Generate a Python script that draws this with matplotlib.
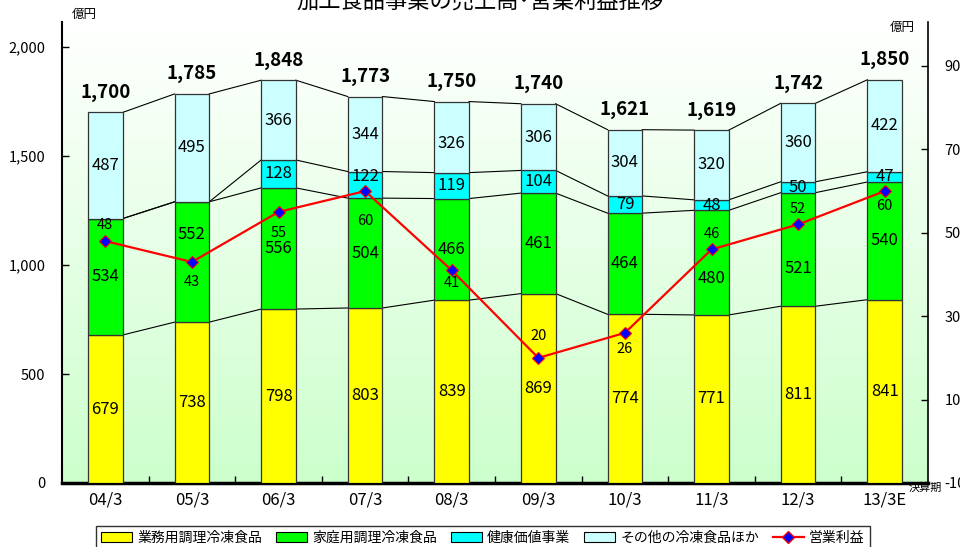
import matplotlib
matplotlib.use("Agg")
import matplotlib.pyplot as plt
import numpy as np
from matplotlib.patches import Patch
from matplotlib.lines import Line2D
from matplotlib.colors import LinearSegmentedColormap

plt.rcParams['font.family'] = ['Noto Sans CJK JP', 'DejaVu Sans']

categories = ["04/3", "05/3", "06/3", "07/3", "08/3", "09/3", "10/3", "11/3", "12/3", "13/3E"]
gyomu = [679, 738, 798, 803, 839, 869, 774, 771, 811, 841]
katei = [534, 552, 556, 504, 466, 461, 464, 480, 521, 540]
kenko = [0, 0, 128, 122, 119, 104, 79, 48, 50, 47]
sonota = [487, 495, 366, 344, 326, 306, 304, 320, 360, 422]
profit = [48, 43, 55, 60, 41, 20, 26, 46, 52, 60]

series_names = ["業務用調理冷凍食品", "家庭用調理冷凍食品", "健康価値事業", "その他の冷凍食品ほか"]
colors = ["#ffff00", "#00ff00", "#00ffff", "#ccffff"]
series = [gyomu, katei, kenko, sonota]

# label placement offsets (pixels, positive = down)
seg_offsets = [
    [0] * 10,
    [0, -27, 0, 0, 0, 0, 0, 16, 19, 0],
    [0, 0, 0, -8, 0, 0, 0, 0, 0, 0],
    [0, 0, 0, 0, 6, 0, 0, 0, 0, 0],
]
profit_offsets = [-16, 20, 21, 30, 13, -22, 16, -15, -15, 15]

fig = plt.figure(figsize=(9.6, 5.47), dpi=100)
ax = fig.add_axes([62/960, 1-483/547, (928-62)/960, (483-22)/547])
ax2 = ax.twinx()

# gradient background
grad = np.linspace(0, 1, 256).reshape(-1, 1)
cmap = LinearSegmentedColormap.from_list("bg", ["#ccffcc", "#ffffff"])
ax.imshow(grad, aspect='auto', cmap=cmap, origin='lower',
          extent=[0, 1, 0, 1], transform=ax.transAxes, zorder=0)

x = np.arange(len(categories))
w = 0.40
bottom = np.zeros(len(categories))
levels = []
for k, (vals, col) in enumerate(zip(series, colors)):
    vals = np.array(vals, dtype=float)
    ax.bar(x, vals, w, bottom=bottom, color=col, edgecolor="#333333", linewidth=0.9, zorder=3)
    for i, v in enumerate(vals):
        if v > 0:
            ax.annotate(f"{int(v)}", (x[i], bottom[i] + v/2), xytext=(0, -seg_offsets[k][i]),
                        textcoords='offset pixels', ha='center', va='center',
                        fontsize=12, zorder=6)
    bottom = bottom + vals
    levels.append(bottom.copy())

# connector lines between bars
for lev in levels:
    for i in range(len(x) - 1):
        ax.plot([x[i] + w/2, x[i+1] - w/2], [lev[i], lev[i+1]], color="black",
                lw=0.8, zorder=2)

totals = levels[-1]
for i, t in enumerate(totals):
    ax.annotate(f"{int(t):,}", (x[i], t), xytext=(0, 20), textcoords='offset pixels',
                ha='center', va='center', fontsize=13.5, fontweight='bold', zorder=6)

ax.set_xlim(-0.5, len(categories) - 0.5)
ax.set_ylim(0, 2115)
ax.set_yticks([0, 500, 1000, 1500, 2000])
ax.set_yticklabels(["0", "500", "1,000", "1,500", "2,000"], fontsize=10.5)
ax.set_xticks(x)
ax.set_xticklabels(categories, fontsize=12)
ax.tick_params(axis='x', which='major', length=0, pad=6)
ax.set_xticks(np.arange(0.5, len(categories) - 0.5, 1), minor=True)
ax.tick_params(axis='x', which='minor', direction='in', length=5, width=1)
ax.tick_params(axis='y', direction='in', length=5, width=1, pad=12)

ax.spines['top'].set_visible(False)
ax.spines['bottom'].set_linewidth(2.5)
ax.spines['left'].set_linewidth(1.5)
ax.spines['right'].set_visible(False)

ax2.set_ylim(-10, 100.55)
ax2.set_yticks([-10, 10, 30, 50, 70, 90])
ax2.set_yticklabels(["-10", "10", "30", "50", "70", "90"], fontsize=10.5)
ax2.tick_params(axis='y', direction='in', length=5, width=1, pad=12)
ax2.spines['top'].set_visible(False)
ax2.spines['left'].set_visible(False)
ax2.spines['bottom'].set_visible(False)
ax2.spines['right'].set_linewidth(1.2)

ax2.plot(x, profit, color="red", lw=1.6, marker="D", markersize=6.5,
         markerfacecolor="#0000ff", markeredgecolor="red", markeredgewidth=0.8, zorder=5)
for i, p in enumerate(profit):
    ax2.annotate(f"{p}", (x[i], p), xytext=(0, -profit_offsets[i]), textcoords='offset pixels',
                 ha='center', va='center', fontsize=10.5, zorder=6)

# unit labels and title
fig.text(72/960, 1-14/547, "億円", fontsize=9, ha='left', va='center')
fig.text(890/960, 1-27/547, "億円", fontsize=9, ha='left', va='center')
fig.text(909/960, 1-488/547, "決算期", fontsize=8, ha='left', va='center')
fig.text(0.5, 1-2/547, "加工食品事業の売上高･営業利益推移", fontsize=16, ha='center', va='center')

handles = [Patch(facecolor=c, edgecolor="black", linewidth=0.8) for c in colors]
handles.append(Line2D([], [], color="red", lw=1.6, marker="D", markersize=6,
                      markerfacecolor="#0000ff", markeredgecolor="red"))
labels = series_names + ["営業利益"]
leg = fig.legend(handles, labels, loc='upper center', bbox_to_anchor=(483/960, 1-519/547),
                 ncol=5, fontsize=10, frameon=True, fancybox=False, edgecolor="black",
                 handlelength=2.2, handleheight=0.8, columnspacing=1.0, handletextpad=0.4,
                 borderpad=0.35)
leg.get_frame().set_linewidth(1.0)

fig.savefig("out.png", dpi=100)
